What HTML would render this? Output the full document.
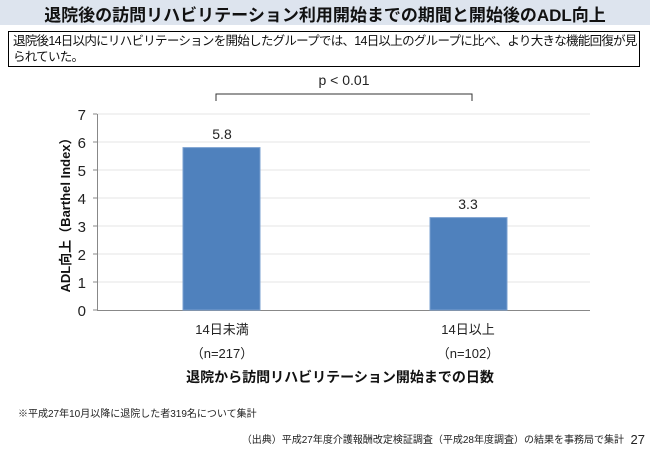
<!DOCTYPE html><html><head><meta charset="utf-8"><style>
body{margin:0;width:650px;height:449px;background:#fff;position:relative;overflow:hidden;font-family:"Liberation Sans","Noto Sans CJK JP",sans-serif;}
.a{position:absolute;white-space:nowrap}
</style></head><body>
<div class="a" style="left:0;top:0;width:650px;height:25px;background:#dde4ee;"></div>
<div class="a" style="left:0;top:1px;width:650px;text-align:center;font-size:17px;font-weight:bold;color:#111;">退院後の訪問リハビリテーション利用開始までの期間と開始後のADL向上</div>
<div class="a" style="left:8px;top:31px;width:630px;height:34px;border:1.5px solid #000;"></div>
<div class="a" style="left:13px;top:33px;font-size:12.5px;line-height:16px;color:#111;letter-spacing:-0.72px;">退院後14日以内にリハビリテーションを開始したグループでは、14日以上のグループに比べ、より大きな機能回復が見<br>られていた。</div>
<svg class="a" style="left:0;top:0" width="650" height="449">
<g stroke="#e4e4e4" stroke-width="1">
<line x1="97" x2="590" y1="114" y2="114"/><line x1="97" x2="590" y1="142" y2="142"/><line x1="97" x2="590" y1="170" y2="170"/><line x1="97" x2="590" y1="198" y2="198"/><line x1="97" x2="590" y1="226" y2="226"/><line x1="97" x2="590" y1="254" y2="254"/><line x1="97" x2="590" y1="282" y2="282"/></g>
<line x1="97.5" x2="97.5" y1="114" y2="310" stroke="#888"/>
<line x1="97" x2="590" y1="310.5" y2="310.5" stroke="#888"/>
<g stroke="#888"><line x1="93" x2="97" y1="114" y2="114"/><line x1="93" x2="97" y1="142" y2="142"/><line x1="93" x2="97" y1="170" y2="170"/><line x1="93" x2="97" y1="198" y2="198"/><line x1="93" x2="97" y1="226" y2="226"/><line x1="93" x2="97" y1="254" y2="254"/><line x1="93" x2="97" y1="282" y2="282"/><line x1="93" x2="97" y1="310" y2="310"/></g>
<rect x="183" y="147.6" width="77" height="162.4" fill="#4f81bd" stroke="#7aa0d0"/>
<rect x="430" y="217.6" width="77" height="92.4" fill="#4f81bd" stroke="#7aa0d0"/>
<g font-family="Liberation Sans, sans-serif" font-size="15" fill="#222" text-anchor="end">
<text x="86" y="120">7</text><text x="86" y="148">6</text><text x="86" y="176">5</text><text x="86" y="204">4</text><text x="86" y="232">3</text><text x="86" y="260">2</text><text x="86" y="288">1</text><text x="86" y="316">0</text></g>
<g font-size="14" fill="#222" text-anchor="middle"><text x="222" y="139">5.8</text><text x="468" y="209">3.3</text><text x="344" y="85">p &lt; 0.01</text></g>
<path d="M216 101 V94 H472 V101" fill="none" stroke="#333"/>
<text transform="translate(70,212) rotate(-90)" text-anchor="middle" font-size="13" font-weight="bold" fill="#111" font-family="Liberation Sans, Noto Sans CJK JP, sans-serif">ADL向上（Barthel Index）</text>
<g font-size="13" fill="#222" text-anchor="middle" font-family="Liberation Sans, Noto Sans CJK JP, sans-serif"><text x="222" y="334">14日未満</text><text x="222" y="358">（n=217）</text><text x="468" y="334">14日以上</text><text x="468" y="358">（n=102）</text></g>
<text x="340" y="382" text-anchor="middle" font-size="14" font-weight="bold" fill="#111" font-family="Liberation Sans, Noto Sans CJK JP, sans-serif">退院から訪問リハビリテーション開始までの日数</text>
<text x="18" y="417" font-size="10" fill="#222" font-family="Liberation Sans, Noto Sans CJK JP, sans-serif">※平成27年10月以降に退院した者319名について集計</text>
<text x="624" y="443" text-anchor="end" font-size="10" fill="#222" font-family="Liberation Sans, Noto Sans CJK JP, sans-serif">（出典）平成27年度介護報酬改定検証調査（平成28年度調査）の結果を事務局で集計</text>
<text x="645" y="444" text-anchor="end" font-size="13" fill="#222">27</text>
</svg>
</body></html>
